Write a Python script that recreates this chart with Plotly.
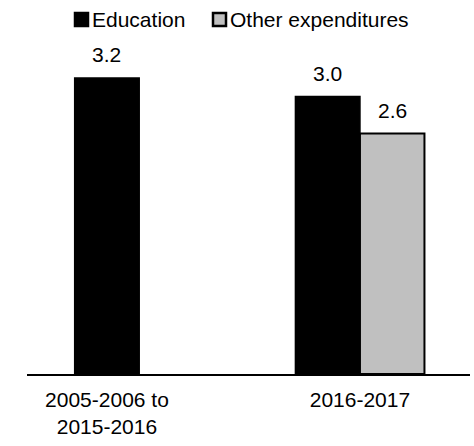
import plotly.graph_objects as go

# Data
categories = ["2005-2006 to<br>2015-2016", "2016-2017"]
education = [3.2, 3.0]
other_categories = ["2016-2017"]
other_expenditures = [2.6]
series_names = ["Education", "Other expenditures"]
series_fill = ["#000000", "#c0c0c0"]

FONT = "Arial, Liberation Sans, sans-serif"
FONT_SIZE = 21
BAR_W = 0.255

W, H = 474, 446
M_L, M_R, M_T, M_B = 27, 4, 40, 72


def px_x(px):
    """Pixel column -> paper x."""
    return (px - M_L) / (W - M_L - M_R)


def px_y(py):
    """Pixel row (from top) -> paper y."""
    return (H - M_B - py) / (H - M_T - M_B)


fig = go.Figure()

# Education: centred alone in the first period, left slot in the second
fig.add_trace(go.Bar(
    name=series_names[0],
    x=categories,
    y=education,
    width=[BAR_W, BAR_W],
    offset=[-BAR_W / 2, -BAR_W],
    marker=dict(color=series_fill[0], line=dict(color="#000000", width=1.5)),
))

# Other expenditures: right slot in the second period
fig.add_trace(go.Bar(
    name=series_names[1],
    x=other_categories,
    y=other_expenditures,
    width=[BAR_W],
    offset=[0],
    marker=dict(color=series_fill[1], line=dict(color="#000000", width=2)),
))

# Value labels above bars
label_specs = [
    (0, education[0]),
    (1 - BAR_W / 2, education[1]),
    (1 + BAR_W / 2, other_expenditures[0]),
]
for xpos, val in label_specs:
    fig.add_annotation(
        x=xpos, y=val, text=f"{val:.1f}", showarrow=False,
        xref="x", yref="y", yanchor="bottom", yshift=10,
        font=dict(family=FONT, size=FONT_SIZE, color="#000000"),
    )

# Legend across the top: square swatch followed by its label
legend_items = [(74, series_names[0], series_fill[0]),
                (212, series_names[1], series_fill[1])]
for left, name, fill in legend_items:
    fig.add_shape(
        type="rect", xref="paper", yref="paper",
        x0=px_x(left + 1), x1=px_x(left + 14),
        y0=px_y(26), y1=px_y(13),
        fillcolor=fill, line=dict(color="#000000", width=2.5),
    )
    fig.add_annotation(
        x=px_x(left + 16), y=px_y(20), xref="paper", yref="paper",
        text=name, showarrow=False, xanchor="left", yanchor="middle",
        font=dict(family=FONT, size=FONT_SIZE, color="#000000"),
    )

fig.update_layout(
    width=W, height=H,
    margin=dict(l=M_L, r=M_R, t=M_T, b=M_B, autoexpand=False),
    plot_bgcolor="white", paper_bgcolor="white",
    barmode="overlay",
    showlegend=False,
    font=dict(family=FONT, size=FONT_SIZE, color="#000000"),
)

fig.update_xaxes(
    type="category",
    range=[-0.316, 1.435],
    showline=True, linecolor="#000000", linewidth=1.5,
    showgrid=False, ticks="", zeroline=False,
    ticklabelstandoff=6,
    tickfont=dict(family=FONT, size=FONT_SIZE, color="#000000"),
)
fig.update_yaxes(
    range=[0, 3.611],
    visible=False, showgrid=False, zeroline=False,
)

fig.write_html("out.html")
